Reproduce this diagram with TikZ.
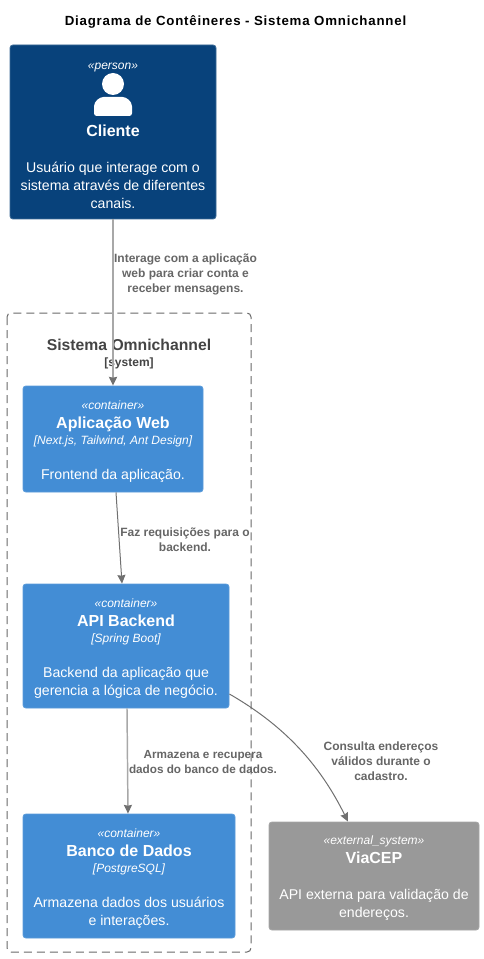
\documentclass[tikz,border=0pt]{standalone}
\usepackage{fontspec}
\setmainfont{Liberation Sans}
\usetikzlibrary{arrows.meta}
\definecolor{personfill}{HTML}{08427B}
\definecolor{personline}{HTML}{3C6A96}
\definecolor{containerfill}{HTML}{438DD5}
\definecolor{containerline}{HTML}{5A9BDA}
\definecolor{externalfill}{HTML}{999999}
\definecolor{externalline}{HTML}{A6A6A6}
\definecolor{relcolor}{HTML}{707070}
\definecolor{relsoft}{HTML}{A8A8A8}
\definecolor{labelcolor}{HTML}{666666}
\definecolor{boundcolor}{HTML}{444444}
\newcommand{\stereo}[1]{\rule{0pt}{10.4pt}{\fontsize{9}{10}\selectfont\itshape #1}}
\newcommand{\techline}[1]{{\fontsize{9}{10}\selectfont\itshape #1}}
\newcommand{\boxname}[1]{{\fontsize{12}{13}\selectfont\bfseries #1}}
\begin{document}
\begin{tikzpicture}[x=0.75pt, y=-0.75pt, >={Stealth[length=6.5pt,width=6pt,inset=0.6pt,color=relcolor]},
  every node/.style={inner sep=0pt, align=center},
  c4box/.style={rectangle, rounded corners=2.2pt, line width=0.6pt, text=white,
    font=\fontsize{10.6}{13.5}\selectfont},
  personbox/.style={c4box, fill=personfill, draw=personline},
  containerbox/.style={c4box, fill=containerfill, draw=containerline},
  externalbox/.style={c4box, fill=externalfill, draw=externalline},
  rel/.style={->, draw=relcolor, line width=0.75pt},
  relwide/.style={->, draw=relsoft, line width=1.4pt},
  rellabel/.style={text=labelcolor, font=\fontsize{9}{11.25}\selectfont\bfseries}]
  \useasboundingbox (0,0) rectangle (484,959);
  \node[font=\fontsize{9.95}{12}\selectfont\bfseries, text=black] (title) at (235.5,21.5) {\addfontfeature{LetterSpace=6}Diagrama de Contêineres - Sistema Omnichannel};

  % boundary
  \draw[boundcolor!80, line width=0.75pt, dash pattern=on 6pt off 3.75pt, rounded corners=3pt] (7,313) rectangle (251,952);
  \node[text=boundcolor, font=\fontsize{9}{12}\selectfont\bfseries] (boundary) at (129,354) {{\fontsize{11.8}{13}\selectfont Sistema Omnichannel}\\[-0.5pt]{\color{boundcolor}[system]}};

  % boxes
  \node[personbox, minimum width=154.5pt, minimum height=130.5pt] (cliente) at (113,132)
    {\stereo{«person»}\\[36.75pt]\boxname{Cliente}\\[13.5pt]Usuário que interage com o\\sistema através de diferentes\\canais.};
  \node[containerbox, minimum width=135pt, minimum height=79.5pt] (web) at (113,439)
    {\stereo{«container»}\\[0.75pt]\boxname{Aplicação Web}\\[-1.5pt]\techline{[Next.js, Tailwind, Ant Design]}\\[12.75pt]Frontend da aplicação.};
  \node[containerbox, minimum width=154.5pt, minimum height=93pt] (api) at (126,646)
    {\stereo{«container»}\\[0.75pt]\boxname{API Backend}\\[-1.5pt]\techline{[Spring Boot]}\\[12.75pt]Backend da aplicação que\\gerencia a lógica de negócio.};
  \node[containerbox, minimum width=159pt, minimum height=93pt] (banco) at (129,876)
    {\stereo{«container»}\\[0.75pt]\boxname{Banco de Dados}\\[-1.5pt]\techline{[PostgreSQL]}\\[12.75pt]Armazena dados dos usuários\\e interações.};
  \node[externalbox, minimum width=157.5pt, minimum height=81pt] (viacep) at (374,876)
    {\stereo{«external\_system»}\\[0.75pt]\boxname{ViaCEP}\\[13.5pt]API externa para validação de\\endereços.};

  % person icon
  \fill[white] (113,84) circle (11);
  \fill[white, rounded corners=2pt] (94,116) -- (94,109) .. controls (94,101) and (100,97) .. (106,97) -- (120,97) .. controls (126,97) and (132,101) .. (132,109) -- (132,116) -- cycle;

  % relations
  \draw[relwide] (cliente.south) -- (web.north);
  \draw[rel] ([xshift=2.25pt]web.south) -- ([xshift=-3pt]api.north);
  \draw[relwide, line width=1.1pt] ([xshift=0.75pt]api.south) -- ([xshift=-0.75pt]banco.north);
  \draw[rel] (api.south east |- 0,694) .. controls (285,726) and (320,765) .. ([xshift=-19.5pt]viacep.north);

  \node[rellabel] (labelweb) at (185.5,274) {Interage com a aplicação\\web para criar conta e\\receber mensagens.};
  \node[rellabel] (labelapi) at (185,539.5) {Faz requisições para o\\backend.};
  \node[rellabel, font=\fontsize{8.8}{11.25}\selectfont\bfseries] (labelbanco) at (203,762.5) {Armazena e recupera\\dados do banco de dados.};
  \node[rellabel] (labelviacep) at (381,761) {Consulta endereços\\válidos durante o\\cadastro.};
\end{tikzpicture}
\end{document}
